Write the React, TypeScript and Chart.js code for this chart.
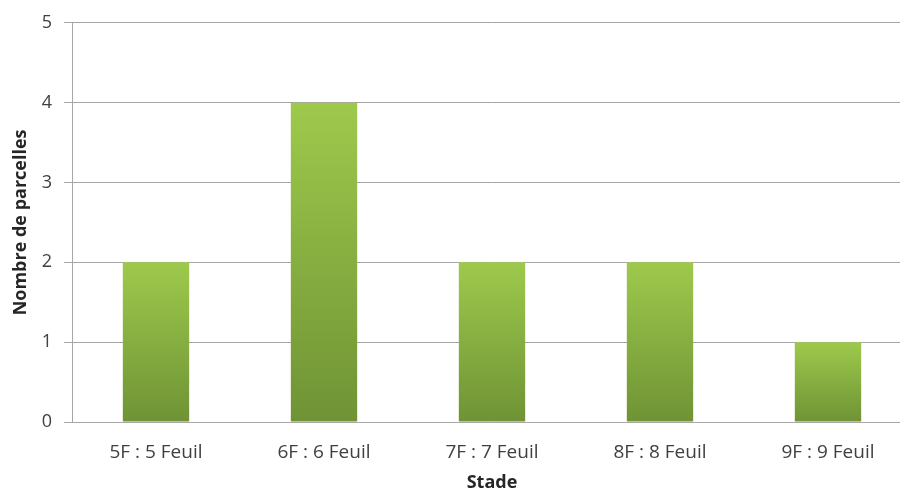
import React, { useEffect, useRef } from "react";
import { Chart, registerables } from "chart.js";

Chart.register(...registerables);

const categories = ["5F : 5 Feuil", "6F : 6 Feuil", "7F : 7 Feuil", "8F : 8 Feuil", "9F : 9 Feuil"];
const values = [2, 4, 2, 2, 1];
const yTicks = [0, 1, 2, 3, 4, 5];

const FONT = "'Open Sans', 'Noto Sans', sans-serif";

export default function App() {
  const ref = useRef<HTMLCanvasElement | null>(null);
  useEffect(() => {
    document.body.style.margin = "0";
    const canvas = ref.current;
    if (!canvas) return;
    const chart = new Chart(canvas, {
      type: "bar",
      data: {
        labels: categories,
        datasets: [
          {
            data: values,
            backgroundColor: (ctx: any) => {
              const c = ctx.chart;
              const y = c.scales?.y;
              if (!y || ctx.parsed === undefined) return "#86ad41";
              const top = y.getPixelForValue(ctx.parsed.y);
              const bot = y.getPixelForValue(0);
              if (!isFinite(top) || !isFinite(bot) || top === bot) return "#86ad41";
              const g = c.ctx.createLinearGradient(0, top, 0, bot);
              g.addColorStop(0, "#9ec94c");
              g.addColorStop(1, "#6f9335");
              return g;
            },
            borderWidth: 0,
            barPercentage: 0.395,
            categoryPercentage: 1,
          },
        ],
      },
      options: {
        animation: false,
        responsive: false,
        maintainAspectRatio: false,
        layout: { padding: { top: 19, right: 0, left: 0, bottom: 0 } },
        plugins: { legend: { display: false }, tooltip: { enabled: false } },
        scales: {
          x: {
            grid: { display: false, drawTicks: false },
            border: { display: true, color: "#a6a6a6", width: 1 },
            ticks: { color: "#404040", font: { family: FONT, size: 19 }, padding: 19, maxRotation: 0 },
            title: {
              display: true,
              text: "Stade",
              color: "#262626",
              font: { family: FONT, size: 18, weight: "bold" },
              padding: { top: 0, bottom: -1 },
            },
            afterFit: (s: any) => {
              s.height = 71;
            },
          },
          y: {
            min: 0,
            max: 5,
            afterBuildTicks: (s: any) => {
              s.ticks = yTicks.map((v) => ({ value: v }));
            },
            grid: { color: "#a6a6a6", tickLength: 8, lineWidth: 1 },
            border: { display: true, color: "#a6a6a6", width: 1 },
            ticks: { color: "#404040", font: { family: FONT, size: 18 }, padding: 12 },
            title: {
              display: true,
              text: "Nombre de parcelles",
              color: "#262626",
              font: { family: FONT, size: 18, weight: "bold" },
              padding: { top: 10, bottom: 0 },
            },
            afterFit: (s: any) => {
              s.width = 72;
            },
          },
        },
      },
    });
    return () => chart.destroy();
  }, []);
  return (
    <div style={{ width: 900, height: 493, overflow: "hidden" }}>
      <canvas ref={ref} width={912} height={493} style={{ width: 912, height: 493, display: "block" }} />
    </div>
  );
}
